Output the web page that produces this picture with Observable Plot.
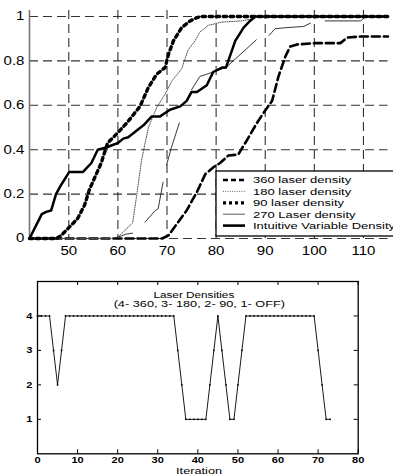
<!DOCTYPE html>
<html><head><meta charset="utf-8">
<script src="https://cdn.jsdelivr.net/npm/d3@7"></script>
<script src="https://cdn.jsdelivr.net/npm/@observablehq/plot@0.6"></script>
<style>
html,body{margin:0;padding:0;background:#fff;overflow:hidden}
#wrap{width:393px;height:474px;position:relative;background:#fff}
#wrap svg{display:block}
</style></head><body><div id="wrap"></div>
<script>
// ---------- top chart data ----------
const xTicksTop = [50, 60, 70, 80, 90, 100, 110];
const yTicksTop = [0, 0.2, 0.4, 0.6, 0.8, 1];
const seriesNames = ["360 laser density", "180 laser density", "90 laser density", "270 Laser density", "Intuitive Variable Density"];

const x360 = [42, 69, 70.3, 72, 74, 76.1, 77.8, 79.4, 80.8, 82.5, 84.5, 86.2, 88.3, 90, 91.4, 92.7, 94.1, 95.1, 96.5, 100, 105.3, 106.7, 109.4, 115];
const y360 = [0, 0, 0.014, 0.066, 0.126, 0.21, 0.29, 0.32, 0.34, 0.374, 0.378, 0.44, 0.52, 0.577, 0.62, 0.73, 0.82, 0.865, 0.874, 0.88, 0.88, 0.905, 0.91, 0.91];

const x180 = [42, 58.5, 60, 61.4, 63, 63.8, 64.8, 66.2, 67.9, 69.6, 71, 73, 74.3, 75.7, 76.7, 78.4, 81.2, 85.2, 87.3, 88, 115];
const y180 = [0, 0, 0.006, 0.036, 0.07, 0.19, 0.35, 0.5, 0.59, 0.65, 0.71, 0.765, 0.85, 0.89, 0.93, 0.96, 0.975, 0.98, 0.99, 1, 1];

const x90 = [42, 47.5, 48.4, 49.8, 51.8, 53.2, 54.2, 55.2, 56.6, 57.9, 59.7, 61.8, 64.5, 66.2, 67.9, 69.6, 70.3, 71.3, 73, 74.7, 76.1, 77, 115];
const y90 = [0, 0, 0.013, 0.044, 0.09, 0.15, 0.22, 0.27, 0.34, 0.43, 0.47, 0.52, 0.595, 0.68, 0.74, 0.77, 0.83, 0.89, 0.95, 0.98, 0.995, 1, 1];

// null marks a break in the 270 curve
const x270 = [59, 60, 61.7, 63, 64, 65.5, 67.6, 68.2, 69.2, 69.5, 69.9, 70.9, 72.5, 74, 75, 76.7, 78.1, 80, 82, 88.2, 89.5, 90.8, 92, 94.4, 97.8, 99.2, 100.5, 102.2, 109.4, 110.5, 115];
const y270 = [0, 0.006, 0.02, 0.024, null, 0.073, 0.126, 0.134, 0.254, null, 0.33, 0.41, 0.52, null, 0.67, 0.73, 0.74, 0.755, 0.77, 0.895, null, 0.915, 0.945, 0.95, 0.955, 0.97, null, 0.98, 0.98, 1, 1];

const xInt = [42, 44.5, 45.4, 46.4, 47.4, 48.4, 50.1, 52.9, 54.6, 55.9, 57.6, 60, 61.1, 62.1, 65.2, 66.9, 68.6, 70.6, 72.7, 74, 75, 76.1, 78.1, 79.4, 81.2, 82, 83.9, 85.6, 86.9, 88, 115];
const yInt = [0, 0.11, 0.12, 0.126, 0.2, 0.24, 0.3, 0.3, 0.34, 0.4, 0.41, 0.43, 0.45, 0.456, 0.51, 0.55, 0.55, 0.58, 0.595, 0.62, 0.66, 0.66, 0.69, 0.75, 0.77, 0.77, 0.89, 0.95, 0.98, 1, 1];

// ---------- bottom chart data ----------
const xTicksBot = [0, 10, 20, 30, 40, 50, 60, 70, 80];
const yTicksBot = [1, 2, 3, 4];
const laserLevel = [4,4,4,4,3,2,3,
  4,4,4,4,4,4,4,4,4,4,4,4,4,4,4,4,4,4,4,4,4,4,4,4,4,4,4,4,
  3,2,1,1,1,1,1,1,2,3,4,3,2,1,1,2,3,
  4,4,4,4,4,4,4,4,4,4,4,4,4,4,4,4,4,4,
  3,2,1,1];
const titleLines = ["Laser Densities", "(4- 360, 3- 180, 2- 90, 1- OFF)"];
const xLabelBot = "Iteration";

// ---------- styles ----------
const lineStyles = [
  {stroke: "black", strokeWidth: 2.6, strokeDasharray: "8,4"},
  {stroke: "#555", strokeWidth: 1, strokeDasharray: "1,1.3"},
  {stroke: "black", strokeWidth: 3.4, strokeDasharray: "3.3,3.7"},
  {stroke: "#222", strokeWidth: 0.9},
  {stroke: "black", strokeWidth: 2.5}
];
const legendStyles = [
  {stroke: "black", strokeWidth: 2.4, strokeDasharray: "5,3"},
  {stroke: "#666", strokeWidth: 1, strokeDasharray: "1,1.3"},
  {stroke: "black", strokeWidth: 3.2, strokeDasharray: "3,3"},
  {stroke: "#444", strokeWidth: 0.9},
  {stroke: "black", strokeWidth: 2.6}
];

const toRows = (xs, ys) => xs.map((x, i) => ({x, y: ys[i] == null ? NaN : ys[i]}));
const seriesRows = [toRows(x360, y360), toRows(x180, y180), toRows(x90, y90), toRows(x270, y270), toRows(xInt, yInt)];

const font = "'Liberation Sans', Arial, Helvetica, sans-serif";

const topPlot = Plot.plot({
  width: 393, height: 262,
  marginLeft: 29, marginRight: 5.5, marginTop: 10, marginBottom: 24,
  style: {fontFamily: font, fontSize: "12px", color: "black", background: "white", overflow: "visible"},
  x: {domain: [42, 115], ticks: xTicksTop, tickSize: 0, tickPadding: 7.5, label: null},
  y: {domain: [0, 1.027], ticks: yTicksTop, tickSize: 0, tickPadding: 5, label: null, tickFormat: d => String(d)},
  marks: [
    Plot.gridX(xTicksTop, {stroke: "#333", strokeOpacity: 1, strokeWidth: 1.1, strokeDasharray: "9,5"}),
    Plot.gridY(yTicksTop, {stroke: "#333", strokeOpacity: 1, strokeWidth: 1.1, strokeDasharray: "9,5"}),
    Plot.ruleX([42], {stroke: "#777", strokeWidth: 1.6}),
    ...seriesRows.map((rows, i) => Plot.line(rows, {x: "x", y: "y", ...lineStyles[i]}))
  ]
});

const botRows = laserLevel.map((v, i) => ({iter: i, level: v}));
const frameW = 393 - 37 - 35.3, frameH = 212 - 19 - 20.7;
const botPlot = Plot.plot({
  width: 393, height: 212,
  marginLeft: 37, marginRight: 35.3, marginTop: 19, marginBottom: 20.7,
  style: {fontFamily: font, fontSize: "8.5px", fontWeight: "600", color: "black", background: "white", overflow: "visible"},
  x: {domain: [0, 80], ticks: xTicksBot, tickSize: 0, tickPadding: 3.4, label: null, tickFormat: d => String(d)},
  y: {domain: [0, 5], ticks: yTicksBot, tickSize: 0, tickPadding: 5, label: null, tickFormat: d => String(d)},
  marks: [
    Plot.frame({stroke: "black", strokeWidth: 1.3}),
    Plot.tickX(xTicksBot, {x: d => d, insetTop: frameH - 4, stroke: "black"}),
    Plot.tickX(xTicksBot, {x: d => d, insetBottom: frameH - 4, stroke: "black"}),
    Plot.tickY(yTicksBot, {y: d => d, insetRight: frameW - 4, stroke: "black"}),
    Plot.tickY(yTicksBot, {y: d => d, insetLeft: frameW - 4, stroke: "black"}),
    Plot.line(botRows, {x: "iter", y: "level", stroke: "black", strokeWidth: 0.9}),
    Plot.dot(botRows, {x: "iter", y: "level", r: 0.9, fill: "black", stroke: "none"}),
    Plot.text([titleLines[0]], {text: d => d, frameAnchor: "top", lineAnchor: "top", dy: 10, dx: -4, fontSize: 8.5, fontWeight: "normal"}),
    Plot.text([titleLines[1]], {text: d => d, frameAnchor: "top", lineAnchor: "top", dy: 19.7, dx: 1.5, fontSize: 8.5, fontWeight: "normal"}),
    Plot.text([xLabelBot], {text: d => d, frameAnchor: "bottom", lineAnchor: "top", dy: 14.5, dx: 1.3, fontSize: 8.5, fontWeight: "normal"})
  ]
});

const wrap = document.getElementById("wrap");
wrap.appendChild(topPlot);
wrap.appendChild(botPlot);

// legend for top chart
const lg = d3.select(topPlot).append("g").attr("class", "legend-box");
lg.append("rect").attr("x", 216).attr("y", 171).attr("width", 200).attr("height", 65)
  .attr("fill", "white").attr("stroke", "black").attr("stroke-width", 1.3);
seriesNames.forEach((name, i) => {
  const y = 180 + i * 11.4;
  const st = legendStyles[i];
  lg.append("line").attr("x1", 223).attr("x2", 245).attr("y1", y).attr("y2", y)
    .attr("stroke", st.stroke).attr("stroke-width", st.strokeWidth)
    .attr("stroke-dasharray", st.strokeDasharray || null);
  lg.append("text").attr("x", 253).attr("y", y).attr("dy", "0.35em")
    .attr("text-anchor", "start")
    .attr("font-size", 9.5).attr("font-family", font).attr("fill", "black").text(name);
});

function stretchText(svg, pick) {
  svg.querySelectorAll("text").forEach(t => {
    const s = pick(t.textContent);
    const b = t.getBBox();
    const a = getComputedStyle(t).textAnchor;
    const ax = a === "end" ? b.x + b.width : a === "middle" ? b.x + b.width / 2 : b.x;
    const tr = t.getAttribute("transform") || "";
    t.setAttribute("transform", `${tr} translate(${ax},0) scale(${s},1) translate(${-ax},0)`);
  });
}
stretchText(topPlot, s => seriesNames.includes(s) ? 1.37 : 1.25);
stretchText(botPlot, s => s === titleLines[0] ? 1.38 : s === titleLines[1] ? 1.5 : s === xLabelBot ? 1.5 : 1.3);
</script></body></html>
